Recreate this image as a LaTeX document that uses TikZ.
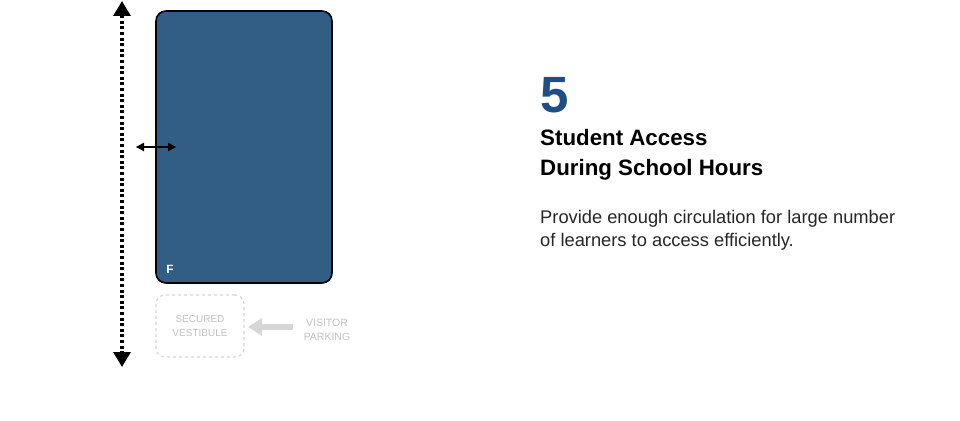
\documentclass[tikz,border=0pt]{standalone}
\usepackage{fontspec}
\setmainfont{Liberation Sans}
\usetikzlibrary{positioning,arrows.meta}
\definecolor{bldgblue}{HTML}{325D84}
\definecolor{numblue}{HTML}{1F4E86}
\definecolor{faintgray}{HTML}{D6D6D6}
\definecolor{bodygray}{HTML}{262626}
\begin{document}
\begin{tikzpicture}[x=1pt,y=-1pt,
        buildingnode/.style={rectangle, rounded corners=10pt, draw=black, fill=bldgblue, line width=1.6pt, minimum width=176pt, minimum height=272pt},
        vestibulenode/.style={rectangle, rounded corners=9pt, draw=faintgray, dashed, line width=1.2pt, minimum width=88pt, minimum height=62pt, align=center, text=faintgray!90!black, font=\fontsize{10}{14}\selectfont, inner sep=0pt},
        parkingnode/.style={align=center, text=faintgray!90!black, font=\fontsize{10.5}{14}\selectfont, inner sep=0pt},
        textnode/.style={anchor=north west, inner sep=0pt, align=left}]

        \useasboundingbox (0,0) rectangle (960,420);

        \node[buildingnode] (bldg) at (244,147) {};
        \node[text=white, font=\bfseries\fontsize{12}{12}\selectfont, inner sep=0pt] (f) at (170,269) {F};
        \node[vestibulenode] (vest) at (200,326) {SECURED\\VESTIBULE};
        \node[parkingnode] (park) at (327,330) {VISITOR\\PARKING};
        \draw[faintgray, line width=5.5pt, -{Triangle[width=17pt,length=14pt]}] (park.west) ++(-11,-3) coordinate (pa) -- (248,327) coordinate (pb);

        % walking route along the building
        \coordinate (top) at (122,1);
        \coordinate (bot) at (122,367);
        \draw[line width=3.2pt, dash pattern=on 3pt off 2.6pt, {Triangle[width=17pt,length=15pt]}-{Triangle[width=17pt,length=15pt]}] (top) -- (bot);
        \coordinate (al) at (136,147);
        \coordinate (ar) at (176,147);
        \draw[line width=1.2pt, {Triangle[width=8.5pt,length=8pt]}-{Triangle[width=8.5pt,length=8pt]}] (al) -- (ar);

        \node[textnode, text=numblue, font=\bfseries\fontsize{51}{51}\selectfont] (num) at (540,77) {5};
        \node[textnode, font=\bfseries\fontsize{22.3}{30}\selectfont] (title) at (540,129) {Student Access\\During School Hours};
        \node[textnode, text=bodygray, font=\fontsize{18.3}{23}\selectfont] (body) at (540,210) {Provide enough circulation for large number\\of learners to access efficiently.};

\end{tikzpicture}
\end{document}
